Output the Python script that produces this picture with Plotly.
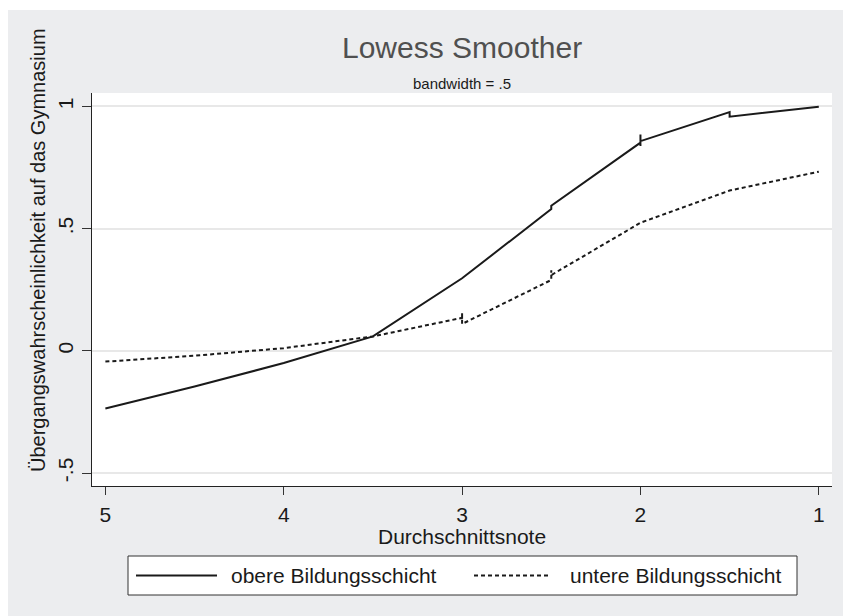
import plotly.graph_objects as go

# ---- data ----
x_obere = [5, 4.5, 4, 3.5, 3, 2.5, 2.5, 2, 2, 2, 2, 1.5, 1.5, 1]
y_obere = [-0.236, -0.146, -0.050, 0.059, 0.297, 0.580, 0.594, 0.852, 0.885, 0.838, 0.858, 0.977, 0.958, 0.999]

x_untere = [5, 4.5, 4, 3.5, 3, 3, 3, 2.5, 2.5, 2.5, 2, 1.5, 1]
y_untere = [-0.044, -0.020, 0.011, 0.059, 0.135, 0.154, 0.110, 0.290, 0.330, 0.310, 0.524, 0.656, 0.733]

x_ticks = [5, 4, 3, 2, 1]
x_ticktext = ["5", "4", "3", "2", "1"]
y_ticks = [-0.5, 0, 0.5, 1]
y_ticktext = ["-.5", "0", ".5", "1"]

series_names = ["obere Bildungsschicht", "untere Bildungsschicht"]

title_text = "Lowess Smoother"
subtitle_text = "bandwidth = .5"
x_title = "Durchschnittsnote"
y_title = "Übergangswahrscheinlichkeit auf das Gymnasium"

FONT = "Liberation Sans, Arial, Helvetica, sans-serif"
INK = "#1a1a1a"
BG = "#ecedef"

fig = go.Figure()
fig.add_trace(go.Scatter(x=x_obere, y=y_obere, mode="lines", name=series_names[0],
                         line=dict(color=INK, width=2), showlegend=False))
fig.add_trace(go.Scatter(x=x_untere, y=y_untere, mode="lines", name=series_names[1],
                         line=dict(color=INK, width=2, dash="4px,3px"), showlegend=False))

# plot area: left 92, right 832, top 93, bottom 486
L, R, T, B = 92, 832, 93, 486
W, H = 843, 616
pw, ph = R - L, B - T

def px(xp):
    return (xp - L) / pw

def py(yp):
    return (B - yp) / ph

shapes = [
    # grey outer background
    dict(type="rect", xref="paper", yref="paper", x0=px(8), x1=px(W + 2), y0=py(H + 2), y1=py(10),
         fillcolor=BG, line=dict(width=0), layer="below"),
    # white plot region
    dict(type="rect", xref="paper", yref="paper", x0=0, x1=1, y0=0, y1=1,
         fillcolor="white", line=dict(width=0), layer="below"),
    # legend box
    dict(type="rect", xref="paper", yref="paper", x0=px(128), x1=px(797), y0=py(595), y1=py(556),
         fillcolor="white", line=dict(color="#333333", width=1)),
    # legend samples
    dict(type="line", xref="paper", yref="paper", x0=px(136), x1=px(217), y0=py(575.5), y1=py(575.5),
         line=dict(color=INK, width=2)),
    dict(type="line", xref="paper", yref="paper", x0=px(474), x1=px(551), y0=py(575.5), y1=py(575.5),
         line=dict(color=INK, width=2, dash="4px,3px")),
]

annotations = [
    dict(text=title_text, xref="paper", yref="paper", x=0.5, y=py(48), xanchor="center", yanchor="middle",
         showarrow=False, font=dict(family=FONT, size=30, color="#505050")),
    dict(text=subtitle_text, xref="paper", yref="paper", x=0.5, y=py(83), xanchor="center", yanchor="middle",
         showarrow=False, font=dict(family=FONT, size=15, color=INK)),
    dict(text=x_title, xref="paper", yref="paper", x=0.5, y=py(536), xanchor="center", yanchor="middle",
         showarrow=False, font=dict(family=FONT, size=21, color=INK)),
    dict(text=y_title, xref="paper", yref="paper", x=px(38), y=py(250), xanchor="center", yanchor="middle",
         textangle=-90, showarrow=False, font=dict(family=FONT, size=20, color=INK)),
    dict(text=series_names[0], xref="paper", yref="paper", x=px(229), y=py(575.5), xanchor="left",
         yanchor="middle", showarrow=False, font=dict(family=FONT, size=21, color=INK)),
    dict(text=series_names[1], xref="paper", yref="paper", x=px(568), y=py(575.5), xanchor="left",
         yanchor="middle", showarrow=False, font=dict(family=FONT, size=21, color=INK)),
]

fig.update_layout(
    template="none",
    width=W, height=H, autosize=False,
    margin=dict(l=L, r=W - R, t=T, b=H - B, pad=0),
    paper_bgcolor="white",
    plot_bgcolor="rgba(0,0,0,0)",
    showlegend=False,
    shapes=shapes,
    annotations=annotations,
    font=dict(family=FONT, color=INK),
    xaxis=dict(range=[5.075, 0.926], tickmode="array", tickvals=x_ticks, ticktext=x_ticktext,
               ticks="outside", ticklen=8, tickwidth=1.3, tickcolor="#333333",
               showline=True, linecolor="#222222", linewidth=1.3, showgrid=False, zeroline=False,
               tickfont=dict(family=FONT, size=21, color=INK), automargin=False, ticklabelstandoff=2),
    yaxis=dict(range=[-0.553, 1.055], tickmode="array", tickvals=y_ticks, ticktext=y_ticktext,
               tickangle=-90, ticks="outside", ticklen=9, tickwidth=1.3, tickcolor="#333333",
               showline=True, linecolor="#222222", linewidth=1.3, showgrid=True,
               gridcolor="#e8e8e8", gridwidth=1.5, zeroline=False,
               tickfont=dict(family=FONT, size=21, color=INK), automargin=False),
)

fig.write_html("out.html")
